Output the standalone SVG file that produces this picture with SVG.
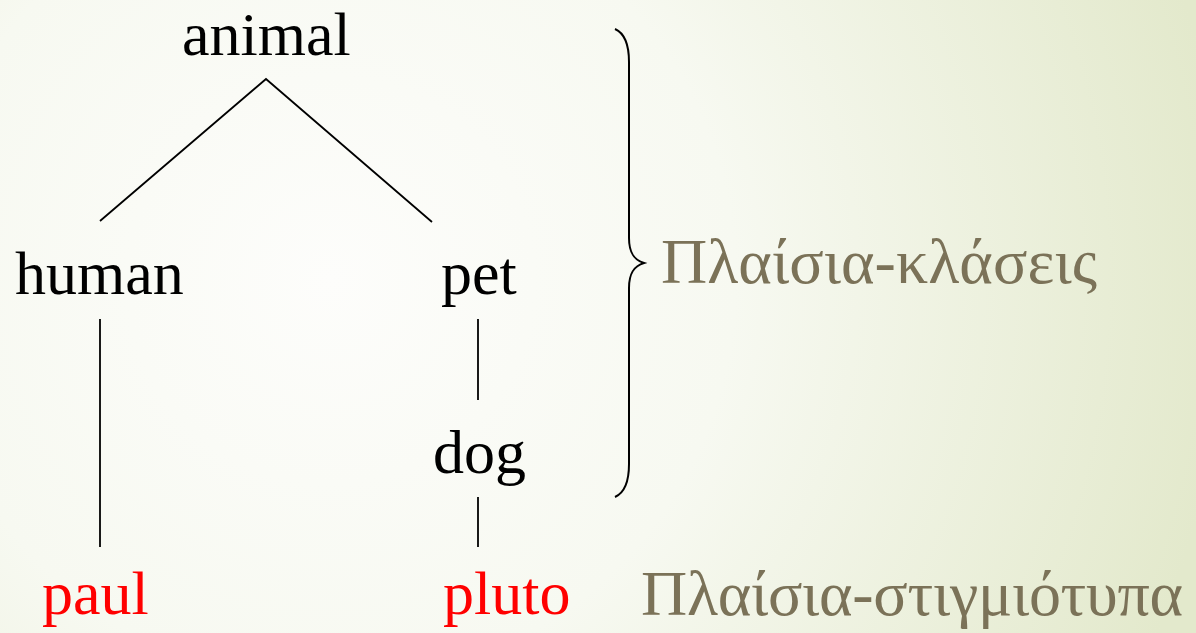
<svg xmlns="http://www.w3.org/2000/svg" width="1196" height="633" viewBox="0 0 1196 633">
<defs>
<radialGradient id="bg" cx="330" cy="280" r="900" gradientUnits="userSpaceOnUse">
<stop offset="0" stop-color="#fdfdfb"/>
<stop offset="0.45" stop-color="#f7f9f1"/>
<stop offset="1" stop-color="#e3e9cc"/>
</radialGradient>
<style>
.t{font-family:"Liberation Serif","Times New Roman",serif;font-size:62px;fill:#000}
.r{fill:#ff0000}
.g{fill:#7b7258;font-size:64px}
.c{stroke:#000;stroke-width:1.8;fill:none}
</style>
</defs>
<rect width="1196" height="633" fill="url(#bg)"/>
<g id="connectors">
<path class="c" d="M100,221 L266,79 L432,222"/>
<line class="c" x1="100" y1="319" x2="100" y2="547"/>
<line class="c" x1="478" y1="319" x2="478" y2="400"/>
<line class="c" x1="478" y1="497" x2="478" y2="547"/>
</g>
<g id="brace">
<path d="M615,29 C624,33 629,42 629,62 L629,238 C629,253 634,260 644,263 C634,266 629,273 629,288 L629,464 C629,484 624,493 615,497" stroke="#000" stroke-width="2" fill="none"/>
</g>
<g id="animal"><text class="t" x="182" y="55">animal</text></g>
<g id="human"><text class="t" x="15" y="294">human</text></g>
<g id="pet"><text class="t" x="441" y="294">pet</text></g>
<g id="dog"><text class="t" x="433" y="473">dog</text></g>
<g id="paul"><text class="t r" x="42" y="614">paul</text></g>
<g id="pluto"><text class="t r" x="443" y="614">pluto</text></g>
<g id="label-classes"><text class="t g" x="661" y="283" textLength="436" lengthAdjust="spacing">Πλαίσια-κλάσεις</text></g>
<g id="label-instances"><text class="t g" x="641" y="615" textLength="542" lengthAdjust="spacing">Πλαίσια-στιγμιότυπα</text></g>
</svg>
